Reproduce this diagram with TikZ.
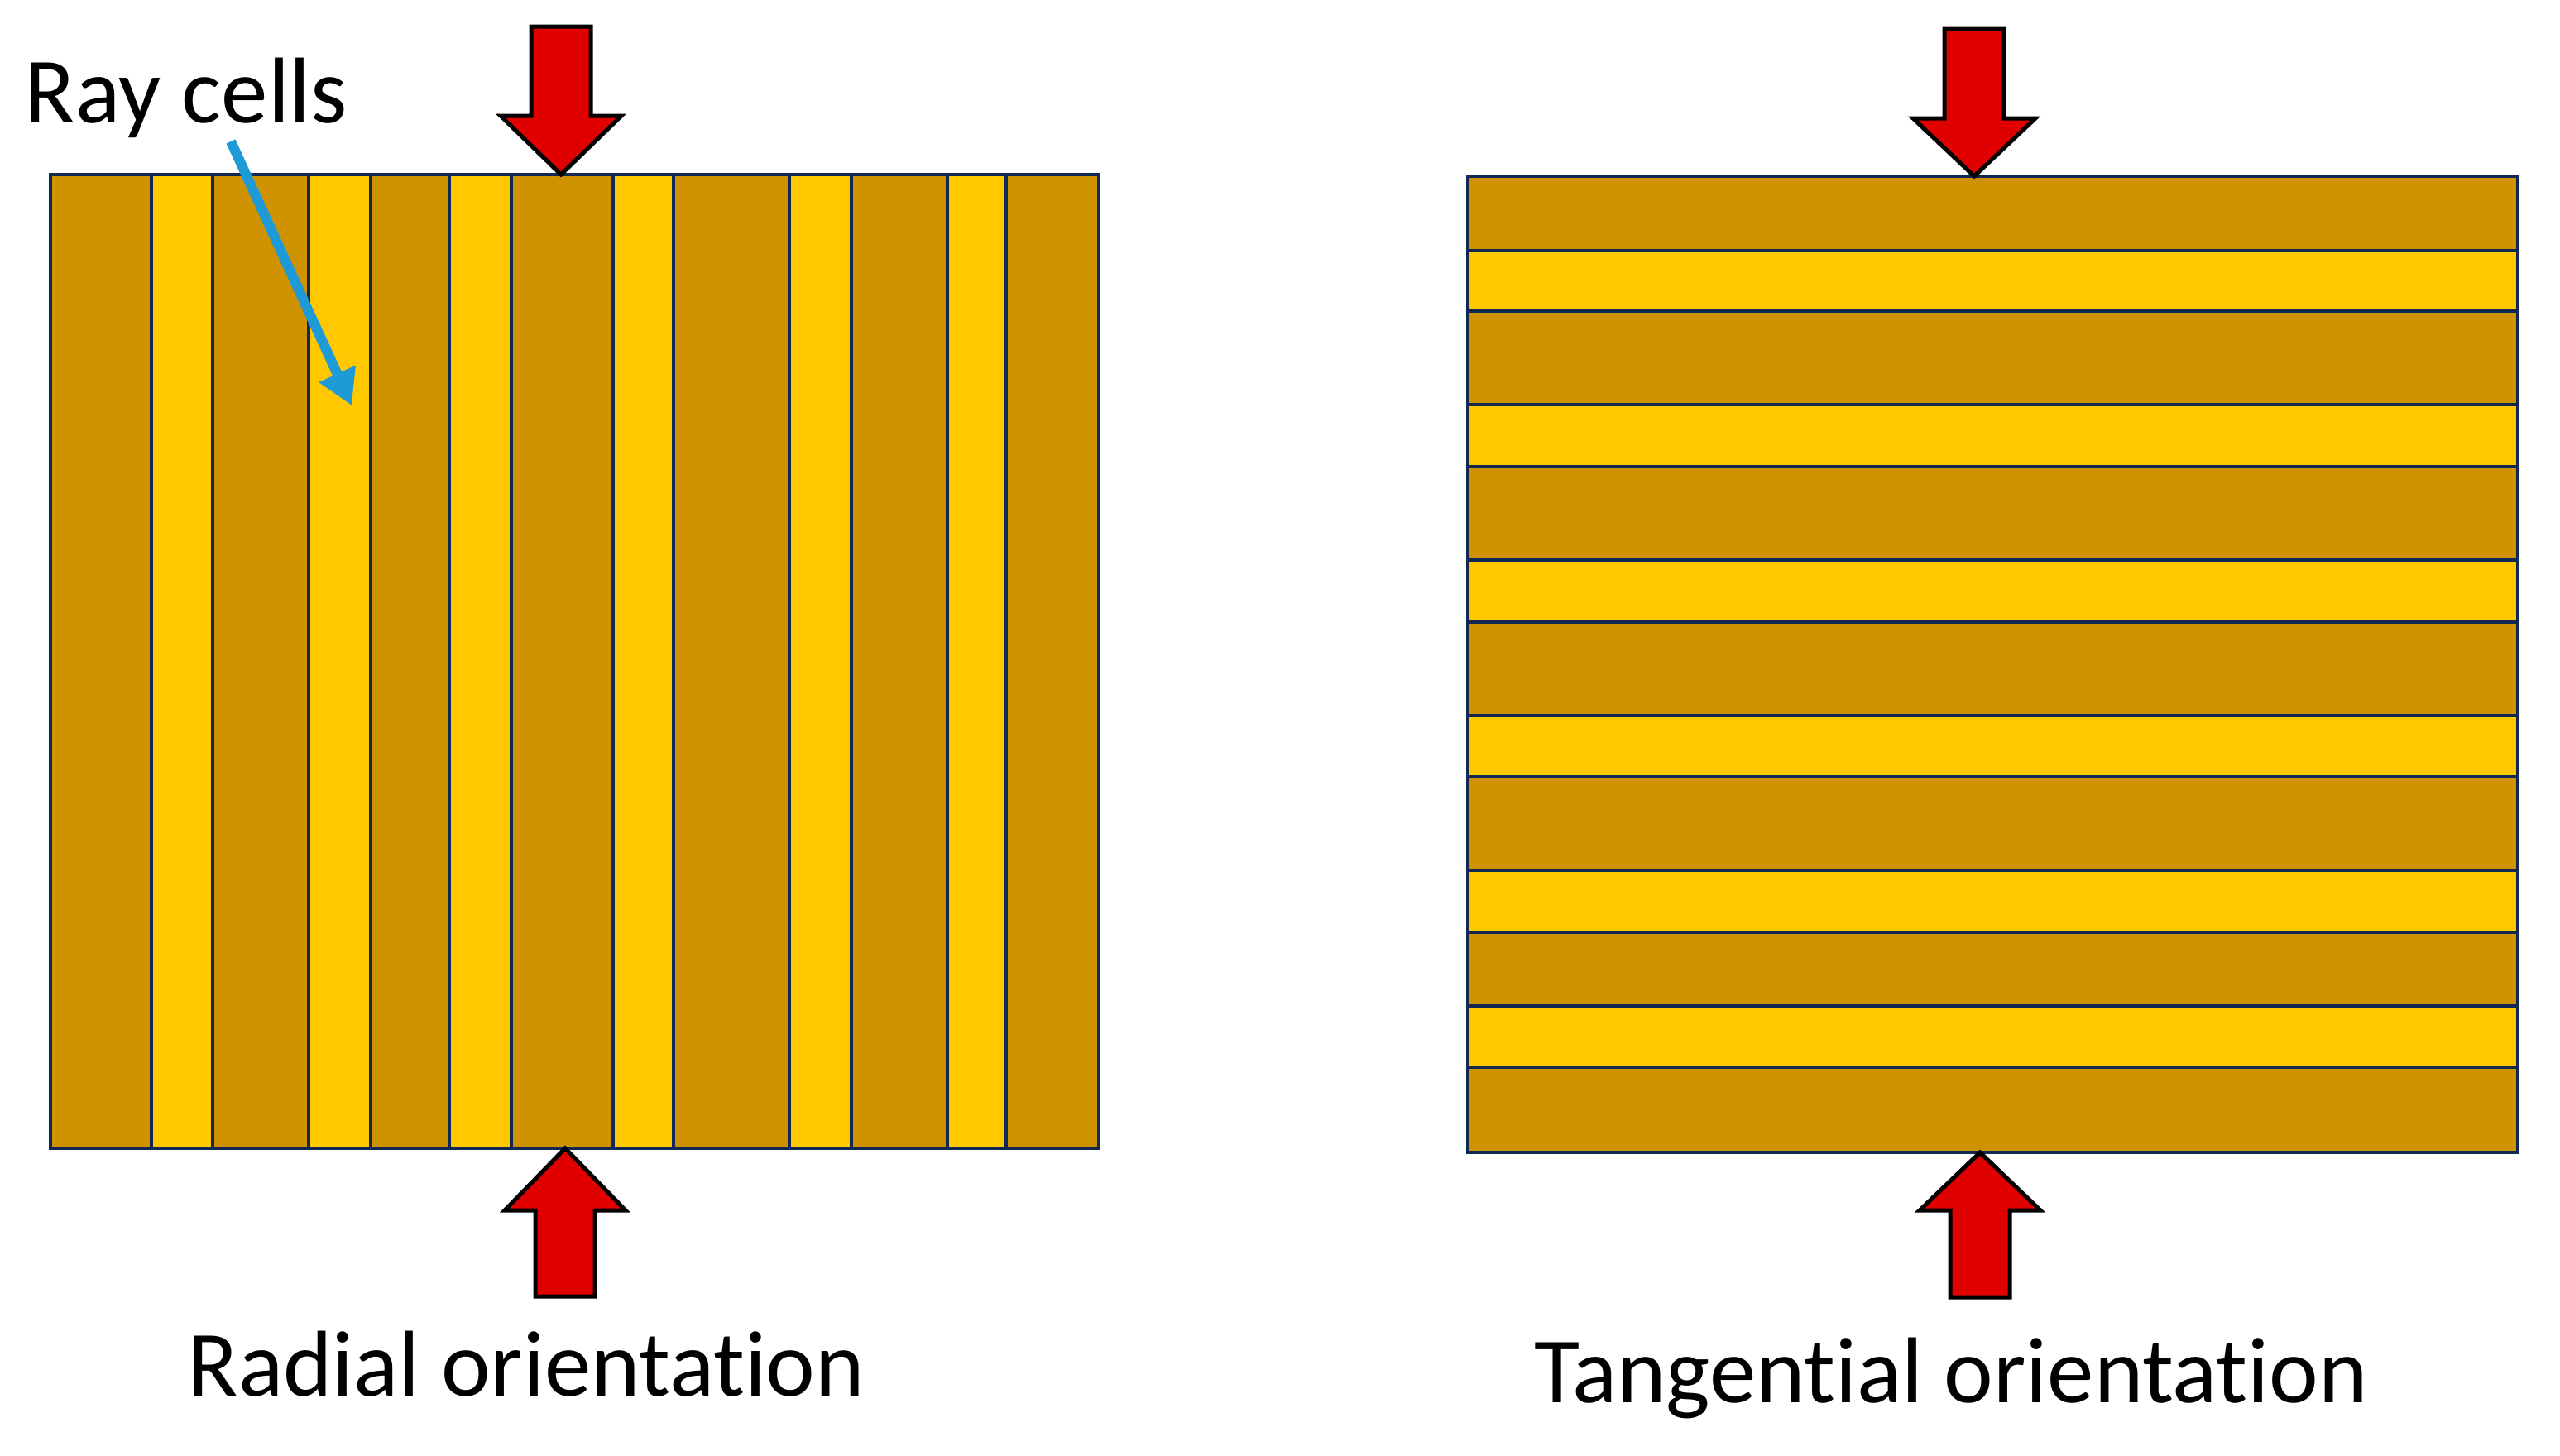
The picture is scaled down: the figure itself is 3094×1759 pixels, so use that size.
\documentclass[tikz,border=0pt]{standalone}
\usepackage{fontspec}
\setmainfont{Carlito}[Ligatures={NoCommon}]
\usetikzlibrary{arrows.meta}
\definecolor{wood}{RGB}{207,146,0}
\definecolor{raycol}{RGB}{255,200,0}
\definecolor{edgecol}{RGB}{18,40,82}
\definecolor{presscol}{RGB}{224,0,0}
\definecolor{pointercol}{RGB}{30,155,215}
\begin{document}
\begin{tikzpicture}[x=1pt,y=-1pt,
  cellbox/.style={fill=#1, draw=edgecol, line width=4.5pt},
  pressarrow/.style={fill=presscol, draw=black, line width=5pt, line join=miter},
  label/.style={font=\fontsize{113}{130}\selectfont, inner sep=0pt}]
\useasboundingbox (0,0) rectangle (3094,1759);
\fill[white] (0,0) rectangle (3094,1759);

% left panel: radial
\foreach \a/\b/\c in {61/183/wood,183/257/raycol,257/373/wood,373/448/raycol,448/543/wood,543/618/raycol,618/741/wood,741/814/raycol,814/954/wood,954/1029/raycol,1029/1145/wood,1145/1216/raycol,1216/1328/wood}
  \filldraw[cellbox=\c] (\a,211) rectangle (\b,1388);

% right panel: tangential
\foreach \a/\b/\c in {213/303/wood,303/376/raycol,376/489/wood,489/564/raycol,564/677/wood,677/752/raycol,752/865/wood,865/939/raycol,939/1052/wood,1052/1127/raycol,1127/1216/wood,1216/1290/raycol,1290/1393/wood}
  \filldraw[cellbox=\c] (1774,\a) rectangle (3043,\b);

% red pressure arrows
\filldraw[pressarrow] (642,32) -- (714,32) -- (714,140) -- (751,140) -- (678,211) -- (605,140) -- (642,140) -- cycle;
\filldraw[pressarrow] (647,1567) -- (719,1567) -- (719,1463) -- (756,1463) -- (683,1388) -- (610,1463) -- (647,1463) -- cycle;
\filldraw[pressarrow] (2350,35) -- (2422,35) -- (2422,143) -- (2460,143) -- (2386,213) -- (2312,143) -- (2350,143) -- cycle;
\filldraw[pressarrow] (2357,1568) -- (2429,1568) -- (2429,1463) -- (2466,1463) -- (2393,1393) -- (2320,1463) -- (2357,1463) -- cycle;

% labels
\node[label, anchor=base] (raylabel) at (225,148) {Ray cells};
\node[label, anchor=base] (radial) at (636,1687) {Radial orientation};
\node[label, anchor=base] (tangential) at (2358,1695) {Tangential orientation};

% blue pointer
\coordinate (pstart) at (279,171);
\coordinate (ptip) at (425,490);
\draw[pointercol, line width=12pt, -{Triangle[length=42pt,width=46pt]}] (pstart) -- (ptip);
\end{tikzpicture}
\end{document}
